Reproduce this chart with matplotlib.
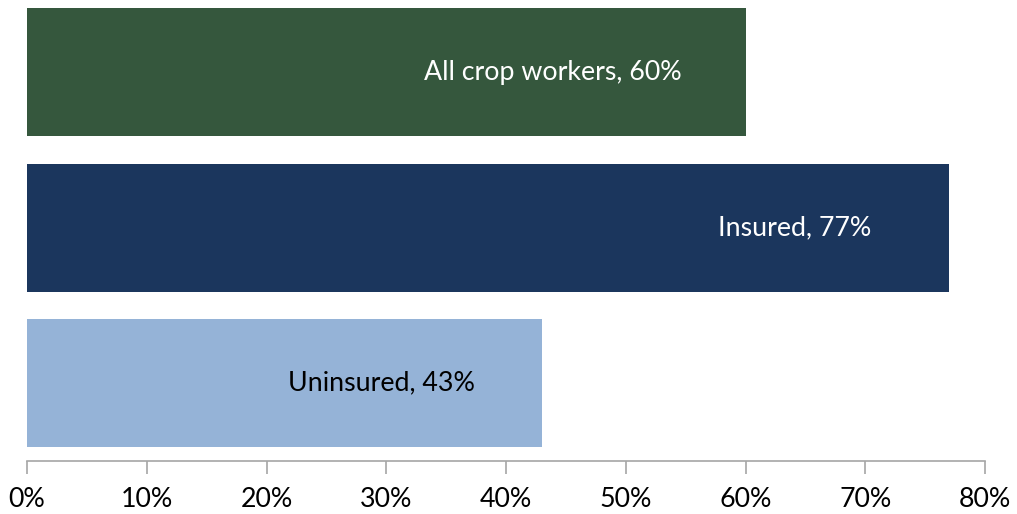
import matplotlib
matplotlib.use("Agg")
import matplotlib.pyplot as plt
from matplotlib.ticker import FuncFormatter

categories = ["All crop workers", "Insured", "Uninsured"]
values = [60, 77, 43]
colors = ["#35573D", "#1B365D", "#95B3D7"]
text_colors = ["white", "white", "black"]
# right edge of each label, in data units
label_right = [54.7, 70.5, 37.4]
xticks = [0, 10, 20, 30, 40, 50, 60, 70, 80]

plt.rcParams['font.family'] = ['Lato', 'DejaVu Sans']

W, H = 1017, 514
fig = plt.figure(figsize=(W / 100, H / 100), dpi=100)
left, right = 27, 985
bottom_px = 461
pitch = 155.5
height_px = 3 * pitch
ax = fig.add_axes([left / W, (H - bottom_px) / H, (right - left) / W, height_px / H])

ypos = [2, 1, 0]
ax.barh(ypos, values, height=128 / pitch, color=colors, edgecolor="none")
ax.set_ylim(-0.5, 2.5)
ax.set_xlim(0, 80)

for y, cat, v, xr, tc in zip(ypos, categories, values, label_right, text_colors):
    ax.text(xr, y, f"{cat}, {v}%", ha="right", va="center", color=tc, fontsize=19.3)

ax.set_xticks(xticks)
ax.xaxis.set_major_formatter(FuncFormatter(lambda x, p: f"{int(x)}%"))
ax.set_yticks([])
for s in ["top", "right", "left"]:
    ax.spines[s].set_visible(False)
ax.spines["bottom"].set_color("#A6A6A6")
ax.spines["bottom"].set_linewidth(1.2)
ax.tick_params(axis="x", direction="out", length=9, width=1.2, color="#A6A6A6",
               labelsize=19.3, labelcolor="black", pad=10)

fig.savefig("out.png", dpi=100)
